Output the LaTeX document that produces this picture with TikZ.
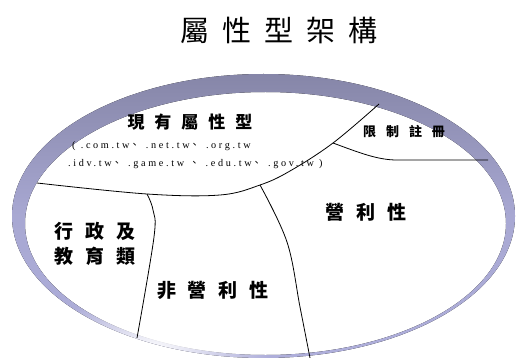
\documentclass[tikz,border=0pt]{standalone}
\usepackage{fontspec}
\setmainfont{Liberation Serif}
\newfontfamily\cjk{Noto Sans CJK TC}
\newfontfamily\domfont[LetterSpace=26]{Liberation Serif}
\usetikzlibrary{fadings}
\definecolor{ringtop}{HTML}{8686A8}
\definecolor{ringside}{HTML}{AEAEDA}
\newcommand{\cgap}[1]{\hspace{#1}}
\newcommand{\dun}{{\cjk 、}\hspace{1pt}}
\tikzfading[name=whiteblob, inner color=transparent!0, outer color=transparent!100]

\begin{document}
\begin{tikzpicture}[x=1pt,y=-1pt,
    title/.style={font=\cjk\fontsize{29}{29}\selectfont},
    part/.style={font=\cjk\bfseries\fontsize{19}{25}\selectfont, align=center},
    small/.style={font=\domfont\fontsize{10.2}{10.2}\selectfont, anchor=west, inner sep=0pt},
    cut/.style={line width=0.8pt}]
  \useasboundingbox (0,0) rectangle (516,358);
  % Draw the ring
  \fill[even odd rule, top color=ringtop, bottom color=ringside, middle color=ringside!85!ringtop]
    (263.5,216) ellipse [x radius=251.5, y radius=142]
    (265.5,223.5) ellipse [x radius=240.5, y radius=131.5];
  \begin{scope}
    \clip (263.5,216) ellipse [x radius=251.5, y radius=142];
    \fill[white, path fading=whiteblob] (150,350) ellipse [x radius=120, y radius=55];
  \end{scope}
  % Points where the cuts meet
  \coordinate (left) at (37,183);
  \coordinate (jl) at (147,194);
  \coordinate (jm) at (260,185);
  \coordinate (jr) at (333,143);
  \coordinate (top) at (379,104);
  \coordinate (right) at (488,160);
  % Draw the cuts
  \draw[cut] plot[smooth, tension=0.6] coordinates {(left) (jl) (220,195) (jm) (290,171) (jr) (top)};
  \draw[cut] (jr) .. controls (360,153) and (378,160) .. (397,160) -- (right);
  \draw[cut] plot[smooth, tension=0.6] coordinates {(jl) (153,210) (154,237) (137,338)};
  \draw[cut] plot[smooth, tension=0.6] coordinates {(jm) (287,242) (300,307) (310,358)};
  % Labels
  \node[title] (head) at (279,30) {屬\cgap{13pt}性\cgap{13pt}型\cgap{13pt}架\cgap{13pt}構};
  \node[part, font=\cjk\bfseries\fontsize{17}{17}\selectfont] (now) at (190,122)
    {現\cgap{10pt}有\cgap{10pt}屬\cgap{10pt}性\cgap{10pt}型};
  \node[small] (dom1) at (72,146) {( .com.tw\dun{} .net.tw\dun{} .org.tw};
  \node[small] (dom2) at (68,164) {.idv.tw\dun{} .game.tw \dun{} .edu.tw\dun{} .gov.tw )};
  \node[part, font=\cjk\bfseries\fontsize{13}{13}\selectfont] (limit) at (404,132)
    {限\cgap{10pt}制\cgap{10pt}註\cgap{10pt}冊};
  \node[part] (gov) at (95,244)
    {行\cgap{12pt}政\cgap{12pt}及\\教\cgap{12pt}育\cgap{12pt}類};
  \node[part] (nonprofit) at (213,290) {非\cgap{12pt}營\cgap{12pt}利\cgap{12pt}性};
  \node[part] (profit) at (366,212) {營\cgap{12pt}利\cgap{12pt}性};
\end{tikzpicture}
\end{document}
